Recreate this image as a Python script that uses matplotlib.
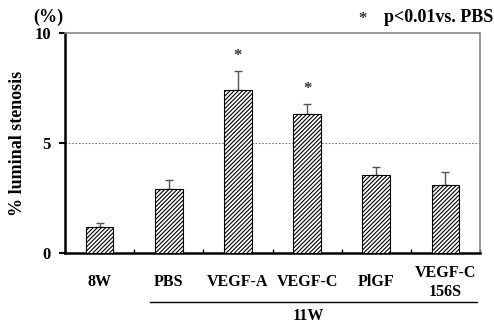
import numpy as np
import matplotlib
matplotlib.use('Agg')
import matplotlib.pyplot as plt

plt.rcParams['font.family'] = 'Liberation Serif'
plt.rcParams['font.weight'] = 'bold'
plt.rcParams['hatch.linewidth'] = 0.8

# data
groups = ['8W', 'PBS', 'VEGF-A', 'VEGF-C', 'PlGF', 'VEGF-C\n156S']
means = [1.18, 2.9, 7.4, 6.3, 3.55, 3.1]
errs = [0.18, 0.4, 0.87, 0.47, 0.35, 0.6]
signif = [False, False, True, True, False, False]

fig = plt.figure(figsize=(4.94, 3.24), dpi=100)
ax = fig.add_axes([65 / 494, 1 - 253 / 324, 415 / 494, 220 / 324])

x = np.arange(len(groups))
ax.bar(x, means, width=0.4, color='white', edgecolor='black', hatch='////////',
       linewidth=0.8, zorder=3)
ax.errorbar(x, means, yerr=[np.zeros(len(errs)), errs], fmt='none',
            ecolor='#555555', elinewidth=1, capsize=3, capthick=1, zorder=2)
for xi, m, e, s in zip(x, means, errs, signif):
    if s:
        ax.text(xi, m + e + 0.3, '*', ha='center', va='bottom', fontsize=12,
                color='#333333')

ax.axhline(5, color='#777777', linestyle=(0, (1.5, 1.5)), linewidth=0.8, zorder=1)

ax.set_xlim(-0.5, len(groups) - 0.5)
ax.set_ylim(0, 10)
ax.set_yticks([0, 5, 10])
ax.set_yticklabels(['0', '5', '10'], fontsize=12, fontweight='bold')
ax.tick_params(axis='y', direction='out', length=4, width=1.5, pad=6)
ax.set_xticks(np.arange(len(groups) + 1) - 0.5, minor=True)
ax.tick_params(axis='x', which='minor', direction='in', length=3, width=1)
ax.set_xticks(x)
ax.set_xticklabels(groups, fontsize=11.5, fontweight='bold', linespacing=1.25)
ax.tick_params(axis='x', which='major', length=0, pad=21)
for lab in ax.get_xticklabels():
    lab.set_va('center')

for s in ['left', 'bottom']:
    ax.spines[s].set_linewidth(1.8)
    ax.spines[s].set_color('black')
for s in ['top', 'right']:
    ax.spines[s].set_linewidth(1.2)
    ax.spines[s].set_color('#888888')

ax.set_ylabel('% luminal stenosis', fontsize=13, fontweight='bold')
ax.yaxis.set_label_coords(-0.094, 0.5)

fig.text(48 / 494, 1 - 17 / 324, '(%)', ha='center', va='center', fontsize=13,
         fontweight='bold')
fig.text(362 / 494, 1 - 19 / 324, '*', ha='center', va='center', fontsize=12,
         color='#333333')
fig.text(493 / 494, 1 - 17 / 324, 'p<0.01vs. PBS', ha='right',
         va='center', fontsize=13, fontweight='bold')

fig.add_artist(plt.Line2D([150 / 494, 477 / 494], [1 - 302 / 324, 1 - 302 / 324],
                          color='black', linewidth=1))
fig.text(308 / 494, 1 - 316 / 324, '11W', ha='center', va='center', fontsize=11.5,
         fontweight='bold')

fig.savefig('out.png', dpi=100)
